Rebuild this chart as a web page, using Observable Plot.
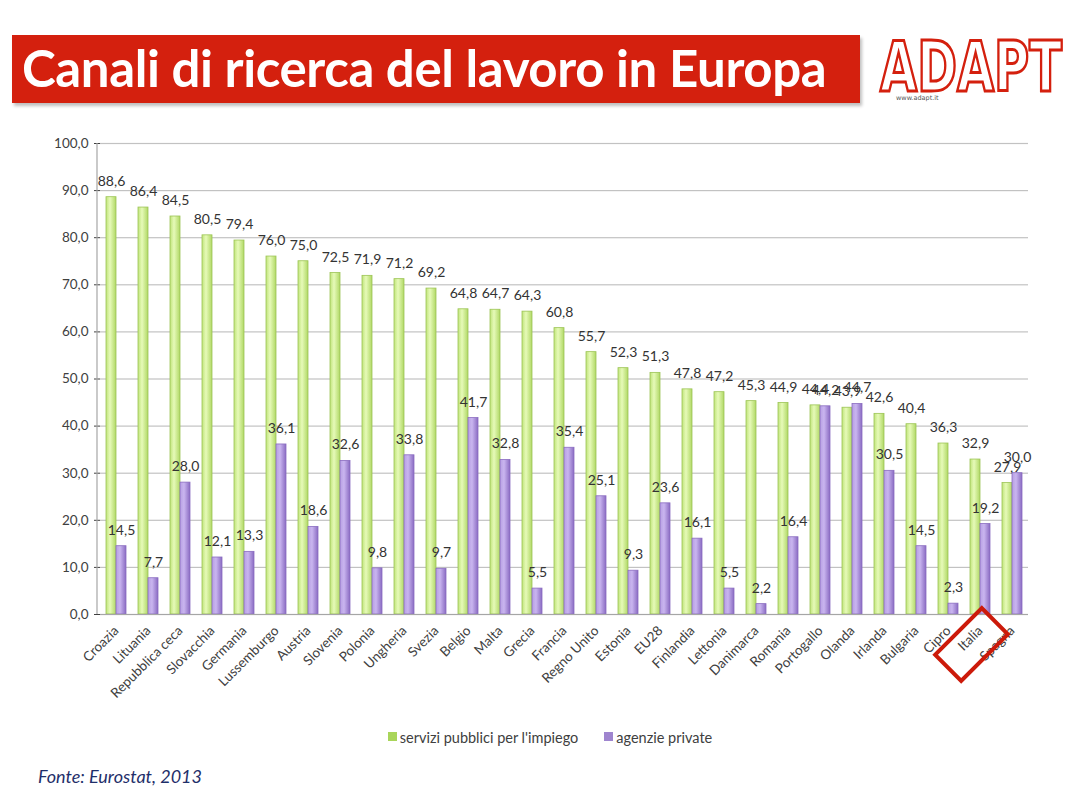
<!DOCTYPE html>
<html><head><meta charset="utf-8">
<script src="https://cdn.jsdelivr.net/npm/d3@7"></script>
<script src="https://cdn.jsdelivr.net/npm/@observablehq/plot@0.6"></script>
<style>
body{margin:0;background:#fff;width:1072px;height:801px;position:relative;overflow:hidden;font-family:Lato,sans-serif}
#title{position:absolute;left:12px;top:35px;width:848px;height:68px;background:#d4200e;box-shadow:2px 3px 3px rgba(0,0,0,0.25);color:#fff;font-family:Lato,sans-serif;font-weight:700;font-size:51px;line-height:66px;padding-left:10px;box-sizing:border-box;white-space:nowrap;letter-spacing:-0.4px}
#logo{position:absolute;left:874px;top:34px;width:196px;height:70px}
#logo svg{overflow:visible}
#chart{position:absolute;left:0;top:120px}
#legend{position:absolute;left:0;top:729px;width:1100px;display:flex;justify-content:center;gap:26px;font-size:14.5px;color:#404040;font-family:Lato,sans-serif}
#legend span.sw{display:inline-block;width:9px;height:9px;margin-right:3px;vertical-align:2px}
#fonte{position:absolute;left:38px;top:765px;font-style:italic;font-size:18px;color:#1f2f6a;font-family:Lato,sans-serif}
</style></head><body>
<div id="title">Canali di ricerca del lavoro in Europa</div>
<div id="logo"><svg width="196" height="70" xmlns="http://www.w3.org/2000/svg">
<text x="6" y="57" textLength="182" lengthAdjust="spacingAndGlyphs" font-family="Liberation Sans Narrow, DejaVu Sans Condensed, sans-serif" font-weight="700" font-size="70" fill="#fff" stroke="#d4200e" stroke-width="3">ADAPT</text>
<text x="22" y="66" font-family="DejaVu Sans, sans-serif" font-size="6.5" fill="#555">www.adapt.it</text>
</svg></div>
<div id="chart"></div>
<div id="legend"></div>
<div id="fonte">Fonte: Eurostat, 2013</div>
<script>
const countries = ["Croazia","Lituania","Repubblica ceca","Slovacchia","Germania","Lussemburgo","Austria","Slovenia","Polonia","Ungheria","Svezia","Belgio","Malta","Grecia","Francia","Regno Unito","Estonia","EU28","Finlandia","Lettonia","Danimarca","Romania","Portogallo","Olanda","Irlanda","Bulgaria","Cipro","Italia","Spagna"];
const pubblici = [88.6,86.4,84.5,80.5,79.4,76.0,75.0,72.5,71.9,71.2,69.2,64.8,64.7,64.3,60.8,55.7,52.3,51.3,47.8,47.2,45.3,44.9,44.4,43.9,42.6,40.4,36.3,32.9,27.9];
const privati = [14.5,7.7,28.0,12.1,13.3,36.1,18.6,32.6,9.8,33.8,9.7,41.7,32.8,5.5,35.4,25.1,9.3,23.6,16.1,5.5,2.2,16.4,44.2,44.7,30.5,14.5,2.3,19.2,30.0];
const seriesNames = ["servizi pubblici per l'impiego","agenzie private"];
const seriesColors = ["#a9d55a","#9f85cf"];
const yTicks = [0,10,20,30,40,50,60,70,80,90,100];
const highlighted = ["Italia"];

const data = countries.flatMap((c,i)=>[
  {country:c, serie:seriesNames[0], value:pubblici[i]},
  {country:c, serie:seriesNames[1], value:privati[i]}
]);
const fmt = v => v.toFixed(1).replace(".", ",");

// rectangular outline symbol (long side 3.3r, short side 1.85r)
const rectSymbol = {
  draw(context, size) {
    const r = Math.sqrt(size / Math.PI);
    const w = 1.65 * r, h = 0.92 * r;
    context.moveTo(-w, -h); context.lineTo(w, -h); context.lineTo(w, h); context.lineTo(-w, h); context.closePath();
  }
};

const chart = Plot.plot({
  width:1072, height:594, marginLeft:97, marginRight:42, marginTop:23, marginBottom:100,
  style:{fontFamily:"Lato, sans-serif", fontSize:"13.5px", color:"#404040", background:"transparent", overflow:"visible"},
  fx:{domain:countries, padding:0, label:null, tickRotate:-45, tickSize:0, tickPadding:14},
  x:{domain:seriesNames, axis:null, paddingInner:0, paddingOuter:0.5},
  y:{domain:[0,100], ticks:yTicks, tickFormat:fmt, label:null, tickSize:6, tickPadding:6},
  marks:[
    Plot.ruleY(yTicks.slice(1), {stroke:"#c2c2c2", strokeWidth:1.2}),
    Plot.barY(data.filter(d=>d.serie===seriesNames[0]), {fx:"country", x:"serie", y:"value", fill:"url(#gradG)", stroke:"#9cc455", strokeWidth:0.8}),
    Plot.barY(data.filter(d=>d.serie===seriesNames[1]), {fx:"country", x:"serie", y:"value", fill:"url(#gradP)", stroke:"#8a6cc0", strokeWidth:0.8}),
    Plot.ruleY([0], {stroke:"#a6a6a6", strokeWidth:1.2}),
    Plot.text(data, {fx:"country", x:"serie", y:"value", text:d=>fmt(d.value), dy:-16, fill:"#333", fontSize:14}),
    Plot.dot(highlighted.map(c=>({country:c, v:0})), {fx:"country", y:"v", dx:-9, dy:30, symbol:rectSymbol, r:20, rotate:-45, stroke:"#cc1a0a", strokeWidth:4, fill:"none"})
  ]
});

const ns = "http://www.w3.org/2000/svg";
const defs = document.createElementNS(ns, "defs");
defs.innerHTML = `
<linearGradient id="gradG" x1="0" x2="1" y1="0" y2="0">
 <stop offset="0" stop-color="#c0e47a"/><stop offset="0.4" stop-color="#e6fab8"/><stop offset="1" stop-color="#b0d865"/>
</linearGradient>
<linearGradient id="gradP" x1="0" x2="1" y1="0" y2="0">
 <stop offset="0" stop-color="#b79fe3"/><stop offset="0.4" stop-color="#c9b5ef"/><stop offset="1" stop-color="#8a6bc2"/>
</linearGradient>`;
chart.prepend(defs);

// vertical y-axis line along the left edge of the frame
const yr = chart.scale("y").range;
const axisLine = document.createElementNS(ns, "line");
axisLine.setAttribute("x1", 97); axisLine.setAttribute("x2", 97);
axisLine.setAttribute("y1", yr[0]); axisLine.setAttribute("y2", yr[1]);
axisLine.setAttribute("stroke", "#a6a6a6"); axisLine.setAttribute("stroke-width", 1.2);
chart.appendChild(axisLine);

document.getElementById("chart").appendChild(chart);

const legend = document.getElementById("legend");
seriesNames.forEach((s,i)=>{
  const item = document.createElement("div");
  item.innerHTML = `<span class="sw" style="background:${seriesColors[i]}"></span>${s}`;
  legend.appendChild(item);
});
</script>
</body></html>
